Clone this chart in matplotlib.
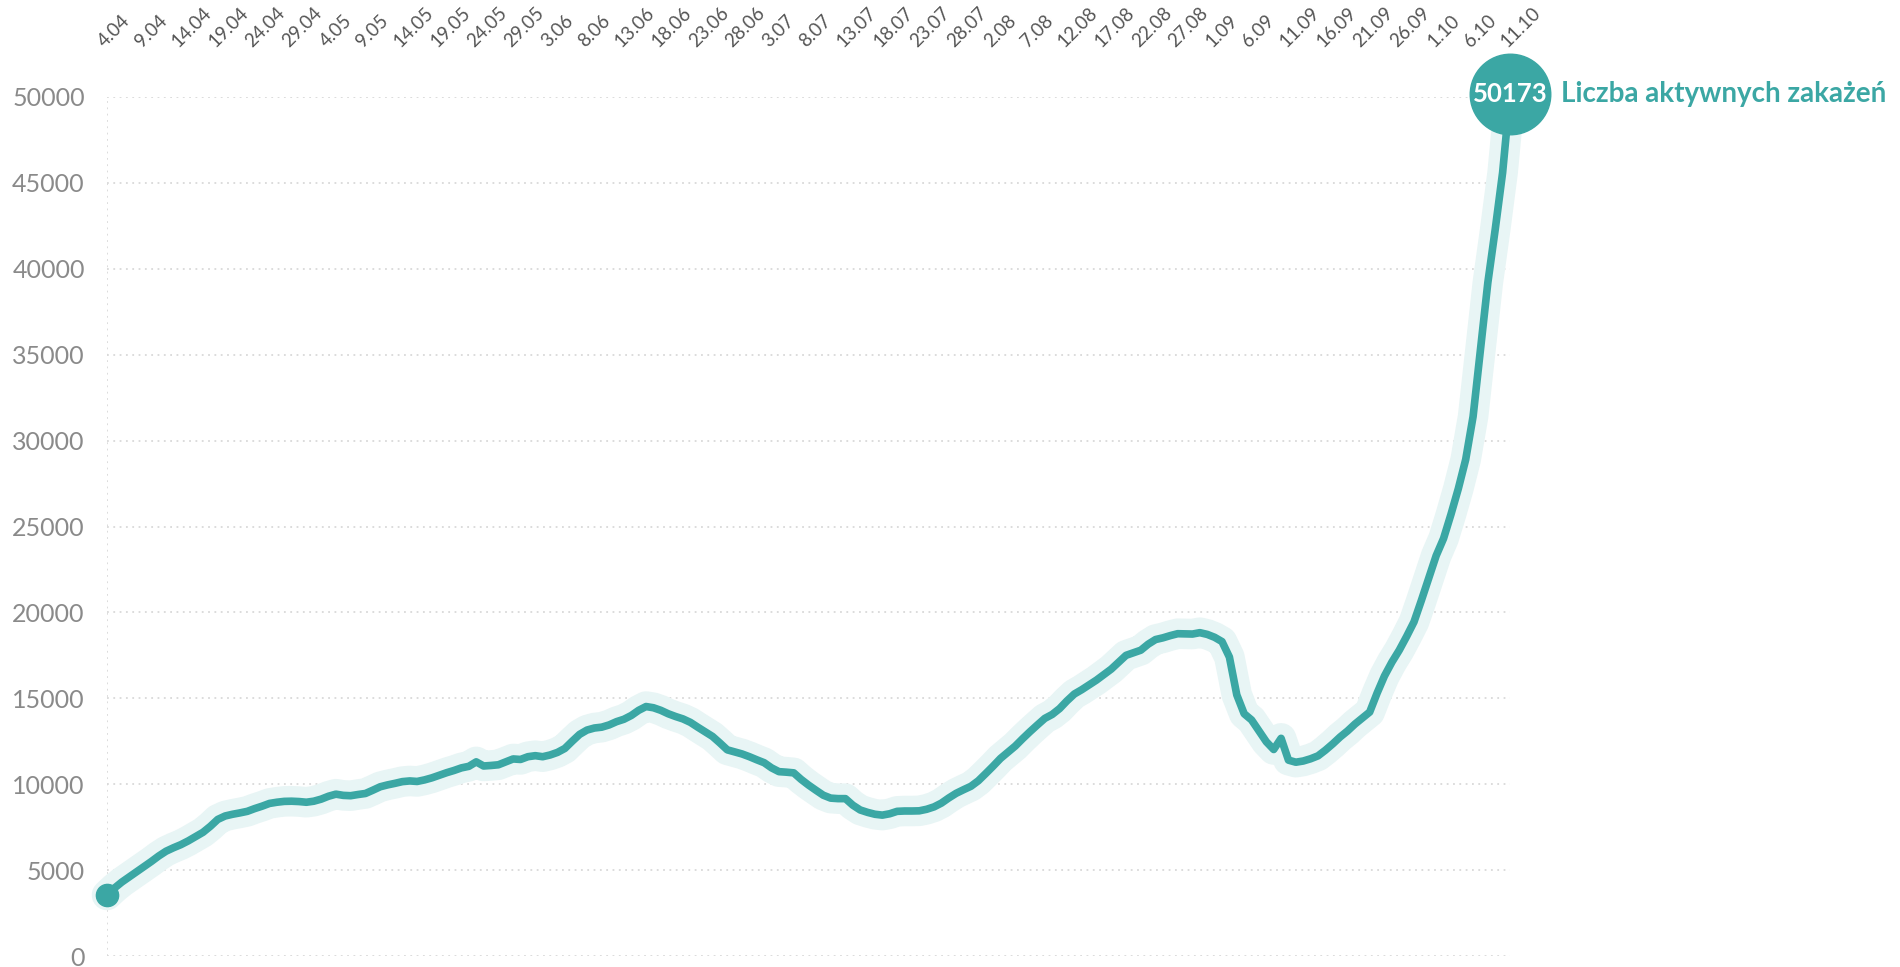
import matplotlib.pyplot as plt

# ======================
# DATA
# ======================
# Date labels (every 5 days, 4.04 -> 11.10)
date_labels = [
    "4.04", "9.04", "14.04", "19.04", "24.04", "29.04",
    "4.05", "9.05", "14.05", "19.05", "24.05", "29.05",
    "3.06", "8.06", "13.06", "18.06", "23.06", "28.06",
    "3.07", "8.07", "13.07", "18.07", "23.07", "28.07",
    "2.08", "7.08", "12.08", "17.08", "22.08", "27.08",
    "1.09", "6.09", "11.09", "16.09", "21.09", "26.09",
    "1.10", "6.10", "11.10",
]

# Daily number of active infections, 4.04 -> 11.10
active_cases = [
    3550, 3950, 4300, 4600, 4900, 5200, 5500, 5820, 6100, 6300,
    6480, 6700, 6950, 7200, 7550, 7950, 8150, 8250, 8330, 8420,
    8580, 8720, 8880, 8950, 9000, 9010, 8990, 8950, 9010, 9130,
    9300, 9420, 9350, 9330, 9400, 9460, 9650, 9850, 9960, 10050,
    10150, 10190, 10160, 10250, 10370, 10520, 10670, 10800, 10950, 11040,
    11300, 11060, 11090, 11130, 11300, 11470, 11440, 11600, 11660, 11600,
    11700, 11850, 12080, 12500, 12900, 13150, 13270, 13320, 13450, 13640,
    13780, 14000, 14300, 14520, 14450, 14300, 14100, 13940, 13800, 13600,
    13320, 13050, 12780, 12400, 12000, 11880, 11760, 11600, 11420, 11250,
    10950, 10730, 10700, 10660, 10280, 9950, 9650, 9360, 9190, 9160,
    9160, 8780, 8500, 8360, 8250, 8200, 8280, 8420, 8440, 8440,
    8450, 8540, 8680, 8900, 9200, 9470, 9680, 9880, 10200, 10620,
    11050, 11500, 11860, 12220, 12650, 13060, 13450, 13830, 14060, 14400,
    14850, 15250, 15500, 15780, 16060, 16380, 16700, 17100, 17500, 17650,
    17800, 18150, 18420, 18520, 18650, 18760, 18750, 18740, 18820, 18720,
    18550, 18300, 17400, 15200, 14100, 13740, 13100, 12470, 12020, 12670,
    11400, 11280, 11350, 11480, 11650, 11980, 12350, 12750, 13100, 13500,
    13850, 14200, 15300, 16300, 17100, 17800, 18600, 19450, 20700, 22000,
    23300, 24300, 25700, 27200, 28900, 31400, 35300, 39200, 42300, 45600,
    50173,
]

series_label = "Liczba aktywnych zakażeń"
y_ticks = list(range(0, 50001, 5000))

# ======================
# STYLE
# ======================
teal = "#3ba7a4"
halo = "#e8f5f5"
plt.rcParams['font.family'] = ['Lato', 'DejaVu Sans']

days = list(range(len(active_cases)))
label_days = list(range(0, len(active_cases), 5))

# ======================
# FIGURE
# ======================
fig = plt.figure(figsize=(19, 9.67), dpi=100)
ax = fig.add_axes([107 / 1900, 11 / 967, (1510 - 107) / 1900, (956 - 97) / 967])
ax.set_xlim(0, len(active_cases) - 1)
ax.set_ylim(0, 50000)

# grid + left dotted border
ax.set_yticks(y_ticks)
ax.yaxis.grid(True, linestyle=(0, (1, 2.5)), color="#d9d9d9", linewidth=1.3)
ax.axvline(0, linestyle=(0, (1, 2.5)), color="#d9d9d9", linewidth=1.3, zorder=1)
for s in ax.spines.values():
    s.set_visible(False)

# line with soft halo
ax.plot(days, active_cases, color=halo, lw=22, solid_capstyle="round",
        solid_joinstyle="round", zorder=2, clip_on=False)
ax.plot(days, active_cases, color=teal, lw=5.5, solid_capstyle="round",
        solid_joinstyle="round", zorder=3, clip_on=False)

# start and end markers
ax.plot(days[0], active_cases[0], "o", ms=16, color=teal, zorder=4, clip_on=False)
ax.plot(days[-1], active_cases[-1], "o", ms=58, color=teal, zorder=4, clip_on=False)
ax.text(days[-1], active_cases[-1], str(active_cases[-1]), color="white",
        fontsize=18.5, fontweight="bold", ha="center", va="center", zorder=5)
ax.annotate(series_label, (days[-1], active_cases[-1]), xytext=(51, 0),
            textcoords="offset pixels", color=teal, fontsize=20,
            fontweight="bold", ha="left", va="center", annotation_clip=False)

# y tick labels
ax.tick_params(axis="y", length=0, pad=16, labelsize=18, labelcolor="#8a8a8a")

# date labels on top
ax.xaxis.tick_top()
ax.set_xticks(label_days)
ax.set_xticklabels(date_labels, rotation=45, ha="left", va="bottom",
                   rotation_mode="anchor", fontsize=13.5, color="#555555")
ax.tick_params(axis="x", length=0, pad=34)

plt.savefig("out.png", dpi=100, facecolor="white")
plt.close()
